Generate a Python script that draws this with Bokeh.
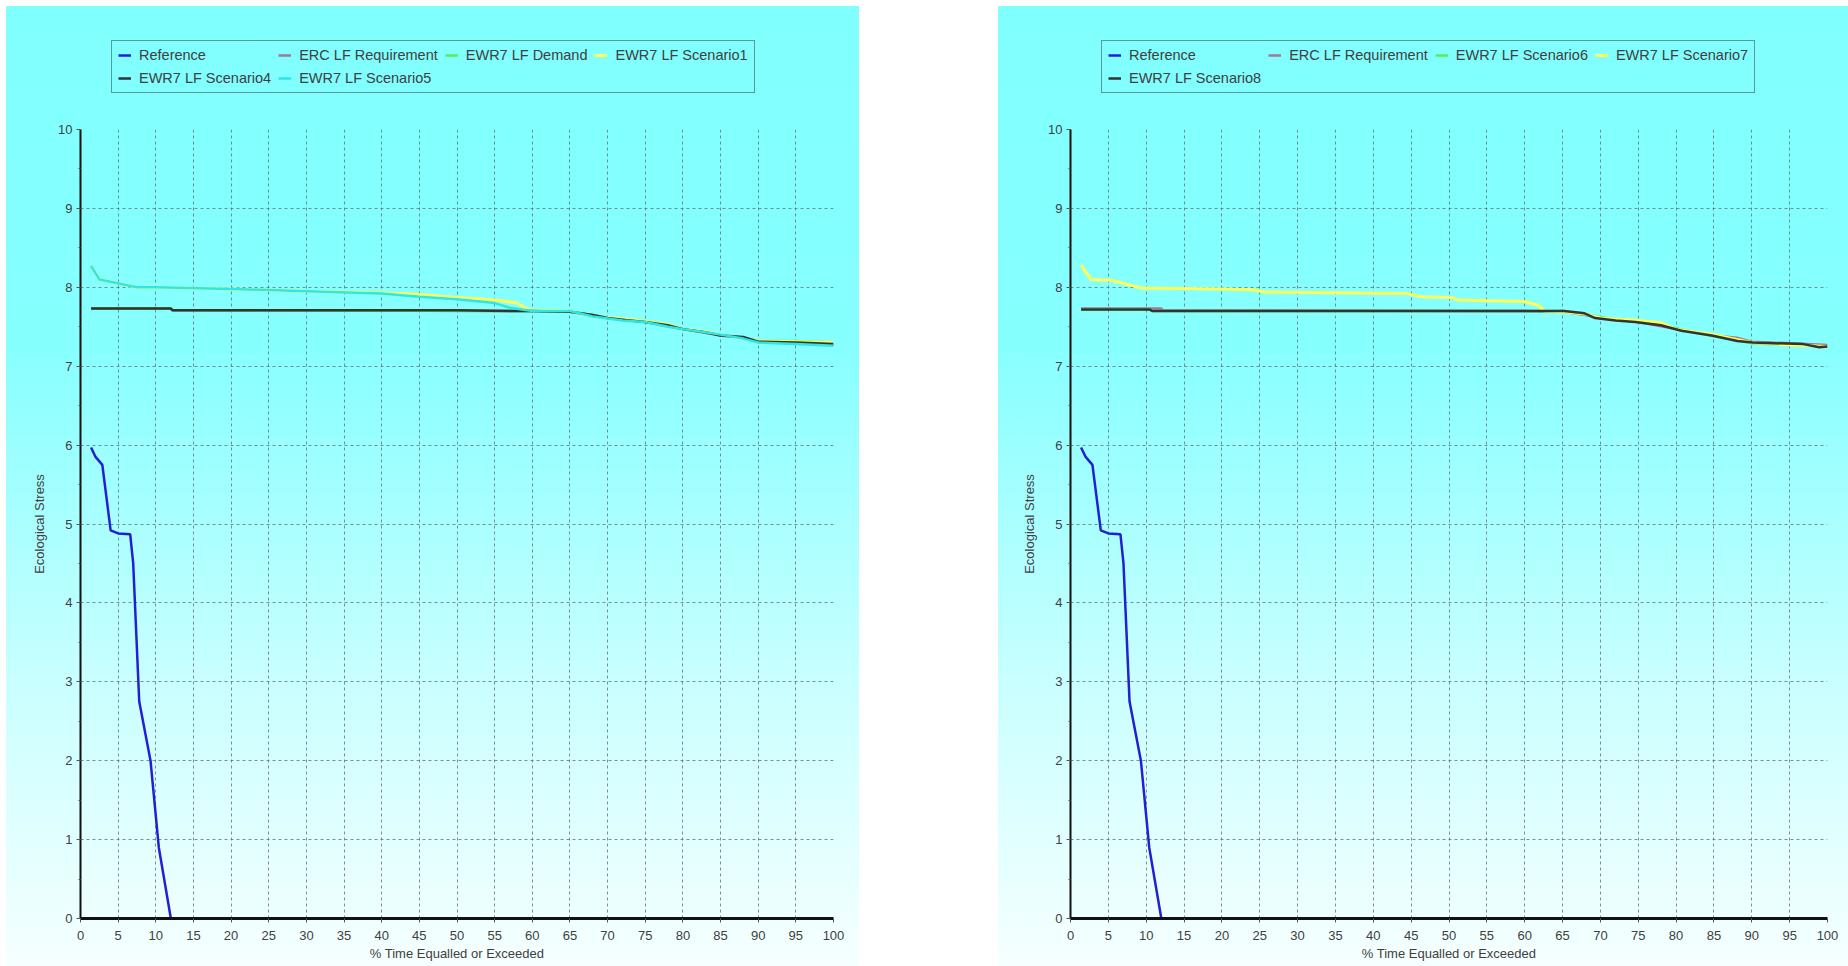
from bokeh.plotting import figure
from bokeh.layouts import row, column
from bokeh.models import Legend, LegendItem, SingleIntervalTicker, Range1d
from bokeh.embed import file_html
from bokeh.resources import INLINE

# ---- data: flow duration of ecological stress (% time equalled or exceeded) ----
ref_x = [1.4, 2.0, 2.9, 4.0, 5.0, 6.6, 7.0, 7.8, 9.3, 10.4, 12.0]
ref_y = [5.97, 5.85, 5.75, 4.92, 4.88, 4.87, 4.50, 2.75, 2.00, 0.90, 0.00]

erc_x = [1.4, 12.0, 12.2, 57.0, 60.0, 65.0, 68.0, 70.0, 75.0, 80.0, 85.0, 88.0, 90.0, 95.0, 100.0]
erc_y = [7.73, 7.73, 7.71, 7.70, 7.70, 7.69, 7.65, 7.61, 7.56, 7.47, 7.39, 7.36, 7.31, 7.29, 7.27]

# left panel series
demand_x = [1.4, 12.0, 12.2, 57.0, 60.0, 65.0, 68.0, 70.0, 75.0, 80.0, 85.0, 88.0, 90.0, 95.0, 100.0]
demand_y = [7.73, 7.73, 7.71, 7.70, 7.70, 7.69, 7.65, 7.61, 7.56, 7.47, 7.40, 7.36, 7.32, 7.32, 7.30]

sc1_x = [1.4, 2.5, 4.0, 6.0, 7.5, 10.0, 20.0, 30.0, 35.0, 40.0, 45.0, 50.0, 55.0, 58.0, 59.0,
         60.0, 65.0, 68.0, 72.0, 75.0, 78.0, 80.0, 83.0, 85.0, 88.0, 90.0, 95.0, 100.0]
sc1_y = [8.27, 8.10, 8.07, 8.03, 8.00, 8.00, 7.98, 7.95, 7.94, 7.93, 7.91, 7.87, 7.84, 7.80, 7.74,
         7.71, 7.70, 7.63, 7.60, 7.57, 7.53, 7.47, 7.44, 7.40, 7.35, 7.32, 7.31, 7.30]

sc4_x = [1.4, 12.0, 12.2, 50.0, 57.0, 60.0, 65.0, 68.0, 70.0, 72.0, 75.0, 78.0, 80.0, 83.0,
         85.0, 88.0, 90.0, 95.0, 100.0]
sc4_y = [7.73, 7.73, 7.71, 7.71, 7.70, 7.70, 7.69, 7.65, 7.61, 7.59, 7.56, 7.52, 7.47, 7.43,
         7.39, 7.37, 7.31, 7.30, 7.28]

sc5_x = [1.4, 2.5, 4.0, 6.0, 7.5, 10.0, 20.0, 30.0, 40.0, 45.0, 50.0, 55.0, 57.0, 60.0, 65.0,
         68.0, 72.0, 75.0, 78.0, 80.0, 83.0, 85.0, 88.0, 90.0, 95.0, 100.0]
sc5_y = [8.27, 8.10, 8.07, 8.03, 8.00, 8.00, 7.98, 7.95, 7.92, 7.88, 7.85, 7.80, 7.74, 7.70, 7.70,
         7.63, 7.58, 7.56, 7.50, 7.47, 7.43, 7.40, 7.35, 7.30, 7.28, 7.26]

# right panel series
sc6_x = [1.4, 10.4, 10.8, 65.0, 68.0, 70.0, 75.0, 78.0, 81.0, 85.0, 88.0, 90.0, 95.0, 100.0]
sc6_y = [7.72, 7.72, 7.70, 7.70, 7.66, 7.62, 7.56, 7.53, 7.46, 7.38, 7.33, 7.29, 7.27, 7.25]

sc7_x = [1.4, 2.7, 5.4, 9.4, 20.0, 24.2, 25.6, 35.0, 44.4, 46.4, 50.4, 51.1, 55.0, 59.9, 61.9,
         62.5, 65.0, 68.0, 70.0, 75.0, 78.0, 80.0, 85.0, 88.0, 90.0, 95.0, 100.0]
sc7_y = [8.28, 8.10, 8.09, 7.99, 7.98, 7.97, 7.94, 7.93, 7.92, 7.88, 7.87, 7.84, 7.83, 7.82, 7.77,
         7.70, 7.69, 7.66, 7.61, 7.58, 7.55, 7.47, 7.40, 7.34, 7.30, 7.27, 7.25]

sc8_x = [1.4, 10.4, 10.8, 40.0, 65.2, 67.9, 69.3, 72.0, 74.6, 78.0, 80.7, 84.7, 88.1, 90.1,
         96.8, 98.9, 100.0]
sc8_y = [7.72, 7.72, 7.70, 7.70, 7.70, 7.67, 7.61, 7.58, 7.56, 7.52, 7.45, 7.39, 7.32, 7.30,
         7.28, 7.24, 7.25]

x_ticks_interval = 5
y_ticks_interval = 1

# ---- styling ----
FONT = "Liberation Sans"
TEXT = "#404040"
C_REF = "#2020D4"
C_ERC = "#A07898"
C_GREEN = "#55EE55"
C_YELLOW = "#FFFF55"
C_DARK = "#333333"
C_CYAN = "#2EE6E6"
BG = "linear-gradient(to bottom, #80FFFF 0%, #86FFFF 35%, #C8FFFF 70%, #F6FFFF 100%)"

LEGEND_H = 113
PLOT_H = 847
NAN = float("nan")


def make_chart(series, width, left, right, legend_x):
    p = figure(width=width, height=PLOT_H, x_range=(0, 100), y_range=(0, 10),
               output_backend="svg", toolbar_location=None,
               min_border_left=left, min_border_right=right,
               min_border_top=10, min_border_bottom=48,
               border_fill_color=None, background_fill_color=None,
               outline_line_color=None)

    p.xaxis.ticker = SingleIntervalTicker(interval=x_ticks_interval, num_minor_ticks=0)
    p.yaxis.ticker = SingleIntervalTicker(interval=y_ticks_interval, num_minor_ticks=2)

    for ax in (p.xaxis[0], p.yaxis[0]):
        ax.axis_line_color = "#111111"
        ax.major_tick_line_color = "#555555"
        ax.minor_tick_line_color = "#555555"
        ax.major_tick_in = 0
        ax.minor_tick_in = 0
        ax.major_label_text_font = FONT
        ax.major_label_text_font_size = "13px"
        ax.major_label_text_color = TEXT
        ax.axis_label_text_font = FONT
        ax.axis_label_text_font_size = "13px"
        ax.axis_label_text_font_style = "normal"
        ax.axis_label_text_color = TEXT

    p.xaxis.axis_line_width = 3
    p.xaxis.major_tick_out = 4
    p.xaxis.minor_tick_out = 0
    p.xaxis.major_label_standoff = 8
    p.xaxis.axis_label = "% Time Equalled or Exceeded"
    p.xaxis.axis_label_standoff = 3

    p.yaxis.axis_line_width = 2
    p.yaxis.major_tick_out = 4
    p.yaxis.minor_tick_out = 2
    p.yaxis.major_label_standoff = 4
    p.yaxis.axis_label = "Ecological Stress"
    p.yaxis.axis_label_standoff = 8

    for g in (p.xgrid[0], p.ygrid[0]):
        g.grid_line_color = "#5f7575"
        g.grid_line_dash = "3 3"
        g.grid_line_width = 1
        g.grid_line_alpha = 0.8

    for name, xs, ys, color, w in series:
        p.line(xs, ys, line_color=color, line_width=w)

    # legend strip above the chart; swatch-only renderers carry the line styles
    lg = figure(width=width, height=LEGEND_H, x_range=Range1d(0, 1), y_range=Range1d(0, 1),
                x_axis_type=None, y_axis_type=None, output_backend="svg",
                toolbar_location=None, min_border=0,
                border_fill_color=None, background_fill_color=None,
                outline_line_color=None)
    items = []
    for name, xs, ys, color, w in series:
        r = lg.line(x=[NAN], y=[NAN], line_color=color, line_width=w)
        items.append(LegendItem(label=name, renderers=[r]))
    legend = Legend(items=items, orientation="horizontal", ncols=4, location=(legend_x, 26),
                    label_text_font=FONT, label_text_font_size="14.5px",
                    label_text_color=TEXT, label_height=14, glyph_height=14,
                    glyph_width=13, label_standoff=8, spacing=7, padding=6,
                    margin=0, background_fill_alpha=0,
                    border_line_color="#333333", border_line_width=1.5)
    lg.add_layout(legend, "center")
    return lg, p


lg1, p1 = make_chart([
    ("Reference", ref_x, ref_y, C_REF, 2.5),
    ("ERC LF Requirement", erc_x, erc_y, C_ERC, 2.5),
    ("EWR7 LF Demand", demand_x, demand_y, C_GREEN, 2.5),
    ("EWR7 LF Scenario1", sc1_x, sc1_y, C_YELLOW, 3),
    ("EWR7 LF Scenario4", sc4_x, sc4_y, C_DARK, 2.5),
    ("EWR7 LF Scenario5", sc5_x, sc5_y, C_CYAN, 2.5),
], width=853, left=74, right=26, legend_x=31)

lg2, p2 = make_chart([
    ("Reference", ref_x, ref_y, C_REF, 2.5),
    ("ERC LF Requirement", erc_x, erc_y, C_ERC, 2.5),
    ("EWR7 LF Scenario6", sc6_x, sc6_y, C_GREEN, 2.5),
    ("EWR7 LF Scenario7", sc7_x, sc7_y, C_YELLOW, 3),
    ("EWR7 LF Scenario8", sc8_x, sc8_y, C_DARK, 2.5),
], width=850, left=72, right=21, legend_x=31)

panel1 = column(lg1, p1, spacing=0, styles={"background": BG}, margin=(6, 0, 0, 6))
panel2 = column(lg2, p2, spacing=0, styles={"background": BG}, margin=(6, 0, 0, 139))

page = row(panel1, panel2)
open("out.html", "w").write(file_html(page, INLINE))
